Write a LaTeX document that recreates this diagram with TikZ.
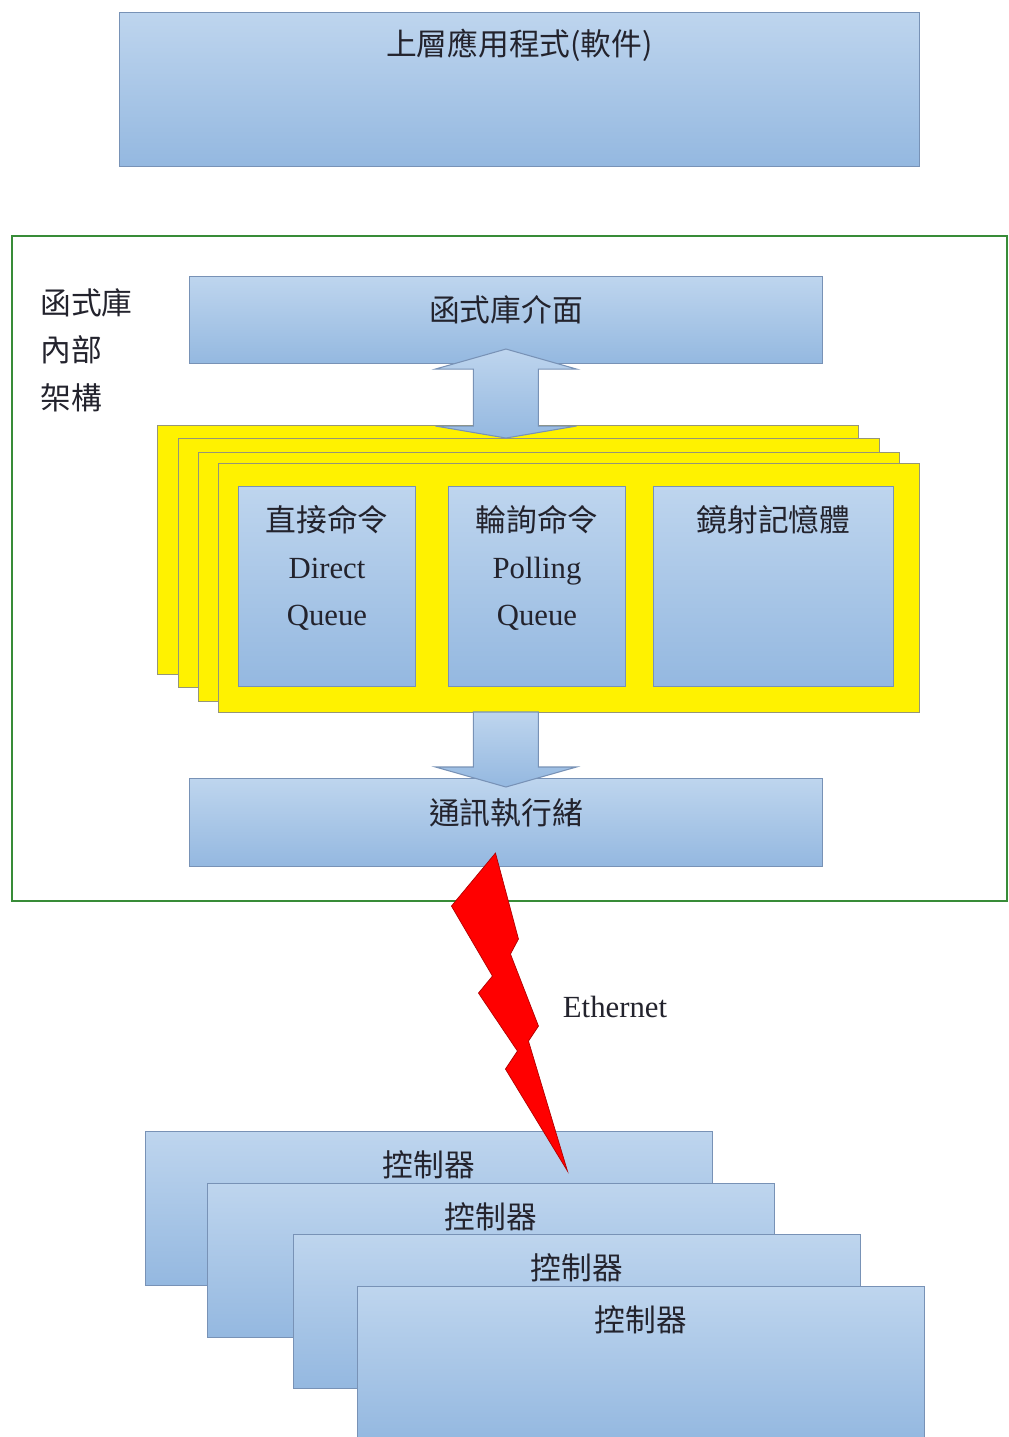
\documentclass[tikz,border=0pt]{standalone}
\usepackage{fontspec}
\setmainfont{Liberation Serif}
\newfontfamily\cjk{Noto Sans CJK TC}
\usetikzlibrary{positioning,calc}
\definecolor{boxtop}{RGB}{190,213,238}
\definecolor{boxbot}{RGB}{148,184,224}
\definecolor{boxline}{RGB}{120,146,182}
\definecolor{libgreen}{RGB}{56,140,56}
\definecolor{ylwline}{RGB}{150,150,120}
\definecolor{inktxt}{RGB}{35,35,45}
\tikzset{
  bluebox/.style={draw=boxline, line width=0.6pt, top color=boxtop, bottom color=boxbot, anchor=north west, inner sep=0pt},
  ylwbox/.style={draw=ylwline, line width=0.6pt, fill=yellow, anchor=north west, inner sep=0pt, minimum width=14.02cm, minimum height=4.98cm},
  txt/.style={text=inktxt, inner sep=0pt, font=\fontsize{17.5}{26.7}\selectfont, align=center},
  cjktxt/.style={txt, font=\cjk\fontsize{17.5}{27}\selectfont},
  blockarrow/.style={draw=boxline, line width=0.6pt, top color=boxtop, bottom color=boxbot}
}
\begin{document}
\begin{tikzpicture}[x=0.02cm, y=-0.02cm]
    \clip (0,0) rectangle (1008,1437);
    \fill[white] (0,0) rectangle (1008,1437);
    \node[bluebox, minimum width=16cm, minimum height=3.08cm] (app) at (119,12) {};
    \node[cjktxt] (appt) at ([yshift=-0.66cm]app.north) {上層應用程式(軟件)};
    \node[draw=libgreen, line width=1pt, anchor=north west, inner sep=0pt, minimum width=19.9cm, minimum height=13.3cm] (lib) at (11,235) {};
    \node[cjktxt, align=left, anchor=west] (libname) at (40,350) {函式庫\\內部\\架構};
    \node[bluebox, minimum width=12.66cm, minimum height=1.74cm] (libif) at (189,276) {};
    \node[cjktxt] (libift) at ([yshift=0.2cm]libif.center) {函式庫介面};
\foreach \n/\x/\y in {y1/157/425,y2/178/438,y3/198/452,y4/218/463}
{
    \node[ylwbox] (\n) at (\x,\y) {};
}
    \node[bluebox, minimum width=3.54cm, minimum height=4cm] (direct) at (238,486) {};
    \node[bluebox, minimum width=3.54cm, minimum height=4cm] (polling) at (448,486) {};
    \node[bluebox, minimum width=4.8cm, minimum height=4cm] (mirror) at (653,486) {};
    \node[txt] (directt) at ([yshift=-1.63cm]direct.north) {{\cjk 直接命令}\\Direct\\Queue};
    \node[txt] (pollingt) at ([yshift=-1.63cm]polling.north) {{\cjk 輪詢命令}\\Polling\\Queue};
    \node[cjktxt] (mirrort) at ([yshift=-0.68cm]mirror.north) {鏡射記憶體};
    \draw[blockarrow, shift={(libif.south)}] (0,-15) -- (70.5,5) -- (32.5,5) -- (32.5,62) -- (70.5,62) -- (0,74) -- (-70.5,62) -- (-32.5,62) -- (-32.5,5) -- (-70.5,5) -- cycle;
    \node[bluebox, minimum width=12.66cm, minimum height=1.76cm] (comm) at (189,778) {};
    \node[cjktxt] (commt) at ([yshift=0.2cm]comm.center) {通訊執行緒};
    \draw[blockarrow, shift={(comm.north)}] (32.5,-66) -- (32.5,-11) -- (70.5,-11) -- (0,9) -- (-70.5,-11) -- (-32.5,-11) -- (-32.5,-66) -- cycle;
\foreach \n/\x/\y in {c1/145/1131,c2/207/1183,c3/293/1234,c4/357/1286}
{
    \node[bluebox, minimum width=11.34cm, minimum height=3.08cm] (\n) at (\x,\y) {};
    \node[cjktxt] (t\n) at ([yshift=-0.68cm]\n.north) {控制器};
}
    \filldraw[fill=red, draw=red!70!black, line width=0.4pt, shift={(comm.south)}] (-10.5,-14) -- (12.5,72) -- (4.5,87) -- (32.5,159) -- (22.5,174) -- (61.5,304) -- (-0.5,202) -- (11.5,184) -- (-27.5,126) -- (-13.5,109) -- (-54.5,39) -- cycle;
    \node[txt] (eth) at (615,1007) {Ethernet};
\end{tikzpicture}
\end{document}
